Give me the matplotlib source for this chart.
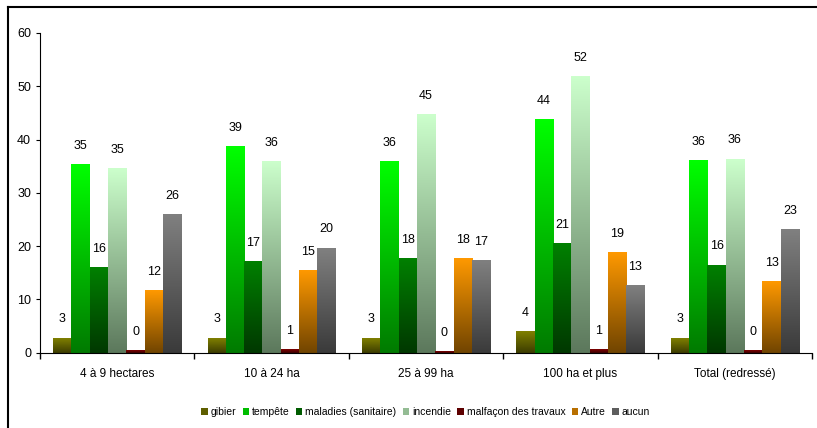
import matplotlib
matplotlib.use("Agg")
import matplotlib.pyplot as plt
import numpy as np
from matplotlib.colors import LinearSegmentedColormap, to_rgb
from matplotlib.lines import Line2D
from matplotlib.patches import Patch

plt.rcParams['font.family'] = ['Liberation Sans', 'DejaVu Sans']

categories = ["4 à 9 hectares", "10 à 24 ha", "25 à 99 ha", "100 ha et plus", "Total (redressé)"]
series = ["gibier", "tempête", "maladies (sanitaire)", "incendie",
          "malfaçon des travaux", "Autre", "aucun"]

gibier = [2.8, 2.8, 2.8, 4.1, 2.8]
tempete = [35.3, 38.7, 35.9, 43.8, 36.2]
maladies = [16.0, 17.2, 17.8, 20.6, 16.5]
incendie = [34.6, 36.0, 44.7, 51.8, 36.4]
malfacon = [0.4, 0.7, 0.3, 0.7, 0.4]
autre = [11.8, 15.4, 17.8, 18.8, 13.4]
aucun = [25.9, 19.7, 17.4, 12.7, 23.1]

# top colour / bottom colour of each gradient
colors = [("#808000", "#3c3c00"), ("#00ff00", "#007a00"), ("#008000", "#003800"),
          ("#ccffcc", "#5c785c"), ("#800000", "#3c0000"), ("#ff9900", "#704400"),
          ("#808080", "#3a3a3a")]

data = [gibier, tempete, maladies, incendie, malfacon, autre, aucun]

fig = plt.figure(figsize=(8.17, 4.28), dpi=100)
ax = fig.add_axes([0.049, 0.176, 0.945, 0.747])

n = len(series)
bw = 0.83 / n
x = np.arange(len(categories))
grad = np.linspace(1, 0, 256).reshape(-1, 1)

for i, (name, vals) in enumerate(zip(series, data)):
    cmap = LinearSegmentedColormap.from_list(name, [colors[i][1], colors[i][0]])
    for xc, v in zip(x, vals):
        x0 = xc - 0.415 + i * bw
        ax.imshow(grad, cmap=cmap, vmin=0, vmax=1, extent=[x0, x0 + bw, 0, v],
                  aspect='auto', interpolation='bilinear', zorder=2)
        ax.text(x0 + bw / 2, v + 2.3, f"{v:.0f}", ha='center', va='bottom', fontsize=9)

ax.set_xlim(-0.5, len(categories) - 0.5)
ax.set_ylim(0, 60)
ax.set_yticks(range(0, 61, 10))
ax.set_xticks(np.arange(len(categories) + 1) - 0.5, minor=False)
ax.set_xticklabels([])
ax.set_xticks(x, minor=True)
ax.set_xticklabels(categories, minor=True, fontsize=8.5)
ax.tick_params(axis='x', which='major', direction='out', length=4, width=1)
ax.tick_params(axis='x', which='minor', length=0, pad=11)
ax.tick_params(axis='y', direction='out', length=3, labelsize=9)
ax.spines['top'].set_visible(False)
ax.spines['right'].set_visible(False)

handles = [Patch(facecolor=np.mean([to_rgb(c[0]), to_rgb(c[1])], axis=0), edgecolor='none')
           for c in colors]
fig.legend(handles, series, loc='center', bbox_to_anchor=(0.521, 0.037), ncol=n,
           frameon=False, fontsize=7.5, handlelength=0.6, handleheight=0.6,
           handletextpad=0.3, columnspacing=0.6)

# outer frame (left and top only visible)
fig.add_artist(Line2D([8 / 817, 8 / 817], [0, 1 - 7 / 428], color='black', lw=1.5,
                      transform=fig.transFigure))
fig.add_artist(Line2D([8 / 817, 1], [1 - 7 / 428, 1 - 7 / 428], color='black', lw=1.5,
                      transform=fig.transFigure))

fig.savefig("out.png", dpi=100)
